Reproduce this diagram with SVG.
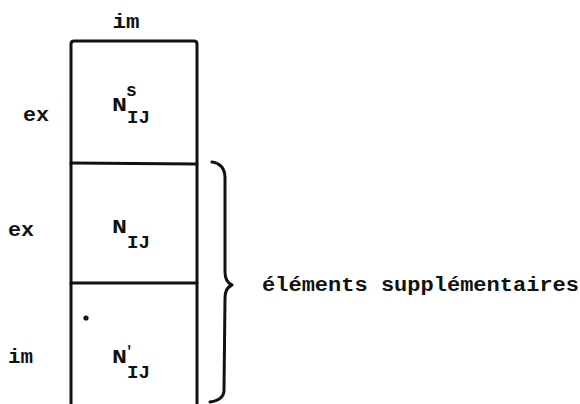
<svg xmlns="http://www.w3.org/2000/svg" width="580" height="404" viewBox="0 0 580 404">
<style>
  .t { font-family: "Liberation Mono", "DejaVu Sans Mono", monospace; font-weight: bold; fill: #111; }
  .lbl { font-size: 20px; }
  .sub { font-size: 18px; }
  .pr { font-size: 14px; }
  .ln { fill: none; stroke: #111; stroke-width: 3; stroke-linecap: round; stroke-linejoin: round; }
</style>
<rect width="580" height="404" fill="#fff"/>
<g id="column">
  <path class="ln" d="M71,406 L71,44 Q71,41 74,41 L194,41 Q197,41 197,44 L197,406"/>
  <line class="ln" x1="71" y1="163" x2="197" y2="164"/>
  <line class="ln" x1="71" y1="283" x2="197" y2="283"/>
</g>
<g id="header">
  <text class="t lbl" x="126" y="28" text-anchor="middle" textLength="27" lengthAdjust="spacingAndGlyphs">im</text>
</g>
<g id="row-top">
  <text class="t lbl" x="23" y="121" textLength="26" lengthAdjust="spacingAndGlyphs">ex</text>
  <text class="t lbl" x="112" y="111" textLength="15" lengthAdjust="spacingAndGlyphs">N</text>
  <text class="t sub" x="126" y="96">s</text>
  <text class="t sub" x="127" y="123" textLength="23" lengthAdjust="spacingAndGlyphs">IJ</text>
</g>
<g id="row-mid">
  <text class="t lbl" x="8" y="236" textLength="26" lengthAdjust="spacingAndGlyphs">ex</text>
  <text class="t lbl" x="112" y="233" textLength="15" lengthAdjust="spacingAndGlyphs">N</text>
  <text class="t sub" x="127" y="248" textLength="23" lengthAdjust="spacingAndGlyphs">IJ</text>
</g>
<g id="row-bottom">
  <circle cx="86" cy="318" r="2.6" fill="#111"/>
  <text class="t lbl" x="8" y="363" textLength="25" lengthAdjust="spacingAndGlyphs">im</text>
  <text class="t lbl" x="112" y="363" textLength="15" lengthAdjust="spacingAndGlyphs">N</text>
  <text class="t pr" x="125" y="356">'</text>
  <text class="t sub" x="127" y="378" textLength="23" lengthAdjust="spacingAndGlyphs">IJ</text>
</g>
<g id="brace">
  <path class="ln" d="M212,162 Q225,164 225,178 L225,272 Q225,282 232,285 Q225,288 225,298 L224,390 Q224,400 210,402" stroke-width="2.6"/>
  <text class="t lbl" x="262" y="291" textLength="317" lengthAdjust="spacingAndGlyphs">éléments supplémentaires</text>
</g>
</svg>
